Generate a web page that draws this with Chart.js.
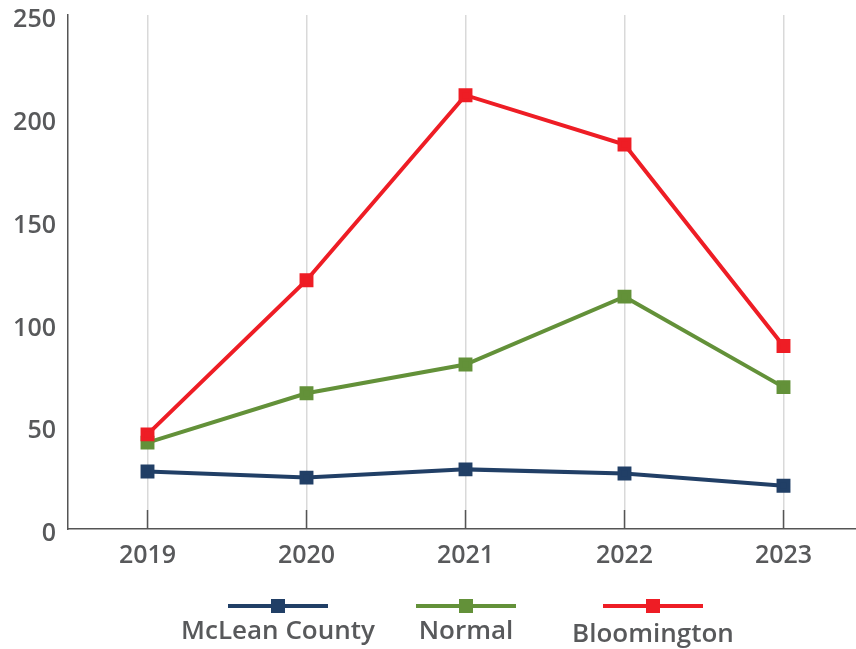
<!DOCTYPE html>
<html>
<head>
<meta charset="utf-8">
<script src="https://cdn.jsdelivr.net/npm/chart.js@4.4.1/dist/chart.umd.min.js"></script>
<style>
  html, body { margin: 0; padding: 0; background: #fff; overflow: hidden; }
  #wrap { width: 874px; height: 649px; position: relative; }
</style>
</head>
<body>
<div id="wrap"><canvas id="chart" width="874" height="649"></canvas></div>
<script>
// Data
const years = ['2019', '2020', '2021', '2022', '2023'];
const mcleanCounty = [28, 25, 29, 27, 21];
const normal = [42, 66, 80, 113, 69];
const bloomington = [46, 121, 211, 187, 89];
const yTicks = [0, 50, 100, 150, 200, 250];

const BLUE = '#213f66';
const GREEN = '#639139';
const RED = '#ee1d25';
const TEXT = '#58595b';

// short dark ticks sitting inside the plot on each category
const innerTicks = {
    id: 'innerTicks',
    afterDatasetsDraw(chart) {
        const ctx = chart.ctx;
        const x = chart.scales.x;
        const bottom = chart.chartArea.bottom;
        ctx.save();
        ctx.strokeStyle = '#555';
        ctx.lineWidth = 1.5;
        years.forEach((y, i) => {
            const px = x.getPixelForValue(i);
            ctx.beginPath();
            ctx.moveTo(px, bottom - 19);
            ctx.lineTo(px, bottom);
            ctx.stroke();
        });
        ctx.restore();
    }
};

// legend: line with square marker, label underneath
const bottomLegend = {
    id: 'bottomLegend',
    afterDraw(chart) {
        const ctx = chart.ctx;
        const spots = {'McLean County': [278, 632], 'Normal': [466, 632], 'Bloomington': [653, 635]};
        ctx.save();
        chart.data.datasets.forEach(ds => {
            const [cx, ty] = spots[ds.label];
            ctx.strokeStyle = ds.borderColor;
            ctx.lineWidth = 4;
            ctx.beginPath();
            ctx.moveTo(cx - 50, 606);
            ctx.lineTo(cx + 50, 606);
            ctx.stroke();
            ctx.fillStyle = ds.borderColor;
            ctx.fillRect(cx - 7, 599, 14, 14);
            ctx.fillStyle = TEXT;
            ctx.font = '600 26px "Open Sans"';
            ctx.textAlign = 'center';
            ctx.textBaseline = 'middle';
            ctx.fillText(ds.label, cx, ty);
        });
        ctx.restore();
    }
};

function series(label, data, color) {
    return {
        label: label,
        data: data,
        borderColor: color,
        backgroundColor: color,
        borderWidth: 4,
        pointStyle: 'rect',
        pointRadius: 7,
        pointHoverRadius: 7,
        tension: 0
    };
}

const tickFont = { family: 'Open Sans', size: 25, weight: '600' };

new Chart(document.getElementById('chart').getContext('2d'), {
    type: 'line',
    data: {
        labels: years,
        datasets: [
            series('Bloomington', bloomington, RED),
            series('Normal', normal, GREEN),
            series('McLean County', mcleanCounty, BLUE)
        ]
    },
    options: {
        responsive: false,
        animation: false,
        layout: { padding: { top: 15, right: 0, bottom: 66, left: 0 } },
        plugins: { legend: { display: false }, tooltip: { enabled: false } },
        scales: {
            x: {
                offset: true,
                grid: { offset: false, color: '#d9d9d9', lineWidth: 1.5, drawTicks: false },
                border: { display: true, color: '#555', width: 1.5 },
                ticks: { color: TEXT, padding: 12, font: tickFont }
            },
            y: {
                min: 0,
                max: 250,
                afterBuildTicks(scale) { scale.ticks = yTicks.map(v => ({ value: v })); },
                afterFit(scale) {
                    scale.width = 68;
                    scale.paddingTop = 0;
                    scale.paddingBottom = 0;
                },
                grid: { display: false, drawTicks: false },
                border: { display: true, color: '#555', width: 1.5 },
                ticks: { color: TEXT, padding: 12, labelOffset: 5, font: tickFont }
            }
        }
    },
    plugins: [innerTicks, bottomLegend]
});
</script>
</body>
</html>
